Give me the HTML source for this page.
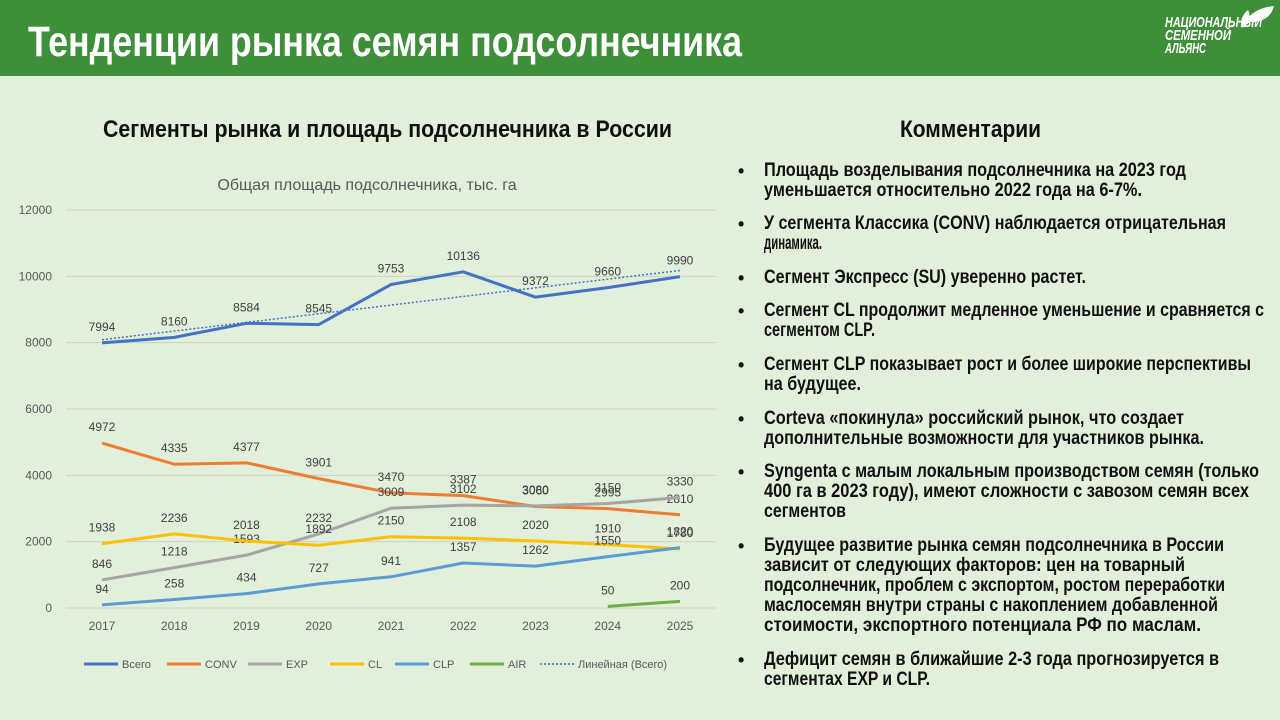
<!DOCTYPE html>
<html><head><meta charset="utf-8">
<style>
body{margin:0;width:1280px;height:720px;background:#e2efda;font-family:"Liberation Sans","Noto Sans CJK SC",sans-serif;position:relative;overflow:hidden}
#hdr{position:absolute;left:0;top:0;width:1280px;height:76px;background:#3e8f3a}
.t{position:absolute;white-space:nowrap;transform-origin:left center;font-weight:bold;color:#111}
.lg{position:absolute;left:1165px;white-space:nowrap;transform-origin:left center;font-weight:bold;font-style:italic;font-size:15px;line-height:13px;color:#fff;display:inline-block}
.ln{position:absolute;left:764px;white-space:nowrap;transform-origin:left center;font-weight:bold;font-size:19px;color:#111;line-height:20px}
.bul{position:absolute;left:738px;font-size:18px;font-weight:bold;color:#111;line-height:20px}
svg{position:absolute;left:0;top:0}
</style></head><body>
<div id="hdr"></div>
<div class="t" data-w="714" style="left:28px;top:19px;font-size:43px;line-height:46px;color:#fff">Тенденции рынка семян подсолнечника</div>
<div class="lg" data-w="97" style="top:16px">НАЦИОНАЛЬНЫЙ</div>
<div class="lg" data-w="66" style="top:29px">СЕМЕННОЙ</div>
<div class="lg" data-w="41" style="top:42px">АЛЬЯНС</div>
<svg width="40" height="30" style="left:1238px;top:2px"><path d="M4 26 Q12 6 36 4 Q32 20 12 20 Z" fill="#fff"/><path d="M4 26 Q2 14 10 8 Q14 16 8 22 Z" fill="#fff"/></svg>
<div class="t" data-w="569" style="left:103px;top:117px;font-size:24px;line-height:26px">Сегменты рынка и площадь подсолнечника в России</div>
<div class="t" data-w="141" style="left:900px;top:117px;font-size:24px;line-height:26px">Комментарии</div>
<div id="cm"></div>
<svg id="ch" width="720" height="720"></svg>
<script>
const years=["2017","2018","2019","2020","2021","2022","2023","2024","2025"];
const yTicks=[0,2000,4000,6000,8000,10000,12000];
const total=[7994,8160,8584,8545,9753,10136,9372,9660,9990];
const conv=[4972,4335,4377,3901,3470,3387,3060,2995,2810];
const exp=[846,1218,1593,2232,3009,3102,3080,3150,3330];
const cl=[1938,2236,2018,1892,2150,2108,2020,1910,1780];
const clp=[94,258,434,727,941,1357,1262,1550,1820];
const air=[null,null,null,null,null,null,null,50,200];
const seriesNames=["Всего","CONV","EXP","CL","CLP","AIR","Линейная (Всего)"];
const NS="http://www.w3.org/2000/svg";
const svg=document.getElementById('ch');
const X=i=>102+i*72.25, Y=v=>608-v*(398/12000);
function el(t,a,txt){const e=document.createElementNS(NS,t);for(const k in a)e.setAttribute(k,a[k]);if(txt!=null)e.textContent=txt;svg.appendChild(e);return e;}
let e=el('text',{x:367,y:190,'text-anchor':'middle','font-size':16,fill:'#595959'},'Общая площадь подсолнечника, тыс. га');


yTicks.forEach(v=>{
 let g=el('line',{x1:66,x2:716,y1:Y(v),y2:Y(v),stroke:'#c9d3c4','stroke-width':1});
 
 
 let t=el('text',{x:52,y:Y(v)+4,'text-anchor':'end','font-size':12,fill:'#595959'},String(v));
 
 
});
years.forEach((y,i)=>{
 let t=el('text',{x:X(i),y:630,'text-anchor':'middle','font-size':12,fill:'#595959'},y);
 
 
});
const S=[[total,'#4472c4','total'],[conv,'#ed7d31','conv'],[exp,'#a5a5a5','exp'],[cl,'#ffc000','cl'],[clp,'#5b9bd5','clp'],[air,'#70ad47','air']];
const n=total.length;let sx=0,sy=0,sxy=0,sxx=0;total.forEach((v,i)=>{sx+=i;sy+=v;sxy+=i*v;sxx+=i*i});
const b=(n*sxy-sx*sy)/(n*sxx-sx*sx),a=(sy-b*sx)/n;
S.forEach(([d,c,nm])=>{
 let pts=[];d.forEach((v,i)=>{if(v!=null)pts.push(X(i)+','+Y(v))});
 let p=el('polyline',{points:pts.join(' '),fill:'none',stroke:c,'stroke-width':3,'stroke-linejoin':'round'});
 
 
 d.forEach((v,i)=>{if(v==null)return;
  let t=el('text',{x:X(i),y:Y(v)-12,'text-anchor':'middle','font-size':12,fill:'#404040'},String(v));
  
  
 });
});
let tr=el('line',{x1:X(0),y1:Y(a),x2:X(n-1),y2:Y(a+b*(n-1)),stroke:'#4472c4','stroke-width':1.5,'stroke-dasharray':'2,2'});


const legX=[84,167,248,330,395,470,540];
const legC=['#4472c4','#ed7d31','#a5a5a5','#ffc000','#5b9bd5','#70ad47','#4472c4'];
seriesNames.forEach((s,i)=>{
 let l=el('line',{x1:legX[i],x2:legX[i]+34,y1:664,y2:664,stroke:legC[i],'stroke-width':i==6?1.5:3,'stroke-dasharray':i==6?'2,2':'none'});
 
 
 let t=el('text',{x:legX[i]+38,y:668,'font-size':11,fill:'#595959'},s);
 
 
});
const lines=[
[171,1186,"Площадь возделывания подсолнечника на 2023 год",1],[191,1142,"уменьшается относительно 2022 года на 6-7%."],
[224,1226,"У сегмента Классика (CONV) наблюдается отрицательная",1],[244,822,"динамика."],
[278,1086,"Сегмент Экспресс (SU) уверенно растет.",1],
[311,1264,"Сегмент CL продолжит медленное уменьшение и сравняется с",1],[331,875,"сегментом CLP."],
[365,1251,"Сегмент CLP показывает рост и более широкие перспективы",1],[385,861,"на будущее."],
[419,1184,"Corteva «покинула» российский рынок, что создает",1],[439,1204,"дополнительные  возможности для участников рынка."],
[472,1259,"Syngenta с малым локальным производством семян (только",1],[492,1249,"400 га в 2023 году), имеют сложности с завозом семян всех"],[512,846,"сегментов"],
[546,1224,"Будущее развитие рынка семян подсолнечника в России",1],[566,1185,"зависит от следующих факторов: цен на товарный"],[586,1225,"подсолнечник, проблем с экспортом, ростом переработки"],[606,1218,"маслосемян внутри страны с накоплением добавленной"],[626,1201,"стоимости, экспортного потенциала РФ по маслам."],
[660,1219,"Дефицит семян в ближайшие 2-3 года прогнозируется в",1],[680,930,"сегментах EXP и CLP."]];
const cm=document.getElementById('cm');
lines.forEach(([y,r,t,bul])=>{
 const d=document.createElement('div');d.className='ln';d.style.top=(y-10)+'px';d.textContent=t;d.dataset.w=r-764;
 
 
 cm.appendChild(d);
 if(bul){const s=document.createElement('div');s.className='bul';s.style.top=(y-10)+'px';s.textContent='•';
 
 
 cm.appendChild(s);}
});
document.querySelectorAll('[data-w]').forEach(d=>{const w=d.getBoundingClientRect().width;if(w)d.style.transform='scaleX('+(d.dataset.w/w)+')';});
</script>
</body></html>
